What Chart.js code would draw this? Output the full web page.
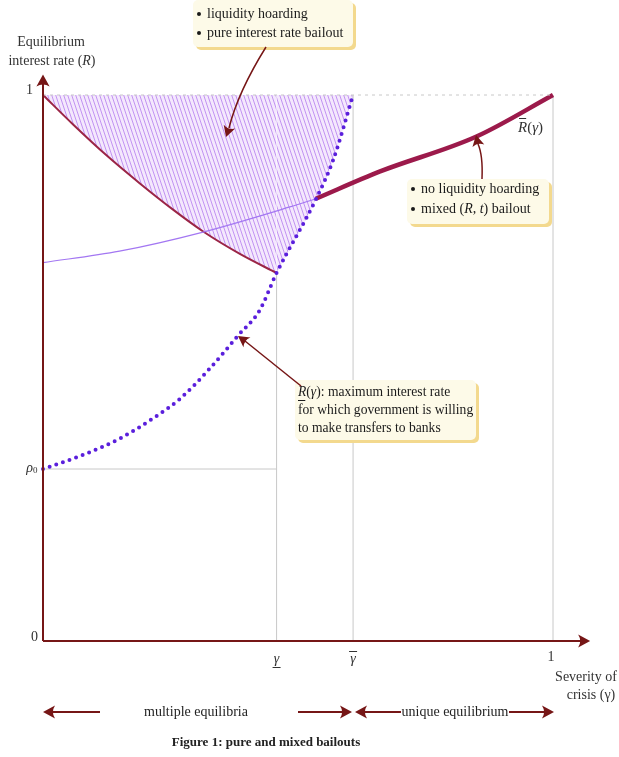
<!DOCTYPE html>
<html>
<head>
<meta charset="utf-8">
<script src="https://cdn.jsdelivr.net/npm/chart.js@4.4.0/dist/chart.umd.min.js"></script>
<style>
  html, body { margin: 0; padding: 0; background: #fff; }
  canvas { display: block; }
</style>
</head>
<body>
<canvas id="chart" width="619" height="757"></canvas>
<script>
// values (x = severity gamma, y = interest rate R)
const RHO0 = 0.315;
const GAMMA_LOW = 0.458;
const GAMMA_HIGH = 0.608;

// R_(gamma): dotted lower bound curve
const lowerX = [0, 0.079, 0.151, 0.216, 0.269, 0.327, 0.383, 0.425, 0.458, 0.533, 0.569, 0.608];
const lowerR = [0.315, 0.341, 0.371, 0.408, 0.444, 0.499, 0.56, 0.606, 0.674, 0.805, 0.881, 1.0];

// decreasing curve (liquidity hoarding equilibrium)
const hoardX = [0, 0.059, 0.125, 0.19, 0.255, 0.314, 0.386, 0.458];
const hoardR = [1, 0.946, 0.889, 0.838, 0.79, 0.75, 0.709, 0.674];

// thin purple line (continuation of Rbar below the dotted curve)
const thinX = [0, 0.15, 0.314, 0.484, 0.535];
const thinR = [0.693, 0.714, 0.749, 0.795, 0.81];

// Rbar(gamma): thick curve
const upperX = [0.535, 0.661, 0.85, 1];
const upperR = [0.81, 0.86, 0.924, 1];

const pts = (xs, ys) => xs.map((x, i) => ({ x: x, y: ys[i] }));

const ink = '#761616';
const serif = '"Liberation Serif", "DejaVu Serif", serif';

function hatchPattern() {
  const c = document.createElement('canvas');
  c.width = 4;
  c.height = 12;
  const g = c.getContext('2d');
  g.fillStyle = '#f4e8fd';
  g.fillRect(0, 0, 4, 12);
  g.strokeStyle = '#c293f2';
  g.lineWidth = 1;
  [-4, 0, 4].forEach((o) => {
    g.beginPath();
    g.moveTo(o, 0);
    g.lineTo(o + 4, 12);
    g.stroke();
  });
  return document.getElementById('chart').getContext('2d').createPattern(c, 'repeat');
}
const hatch = hatchPattern();

// right part of the hatched area: under R = 1, above the dotted curve
const hatchRight = pts(lowerX, lowerR).filter((p) => p.x >= GAMMA_LOW);

function arrowHead(ctx, x, y, angle, size) {
  ctx.save();
  ctx.translate(x, y);
  ctx.rotate(angle);
  ctx.beginPath();
  ctx.moveTo(0, 0);
  ctx.lineTo(-size, -size * 0.55);
  ctx.quadraticCurveTo(-size * 0.65, 0, -size, size * 0.55);
  ctx.closePath();
  ctx.fill();
  ctx.restore();
}

function box(ctx, x, y, w, h) {
  ctx.save();
  ctx.fillStyle = '#f3d98e';
  ctx.beginPath();
  ctx.roundRect(x + 3, y + 3, w, h, 5);
  ctx.fill();
  ctx.fillStyle = '#fdfae8';
  ctx.beginPath();
  ctx.roundRect(x, y, w, h, 5);
  ctx.fill();
  ctx.restore();
}

// draw [text, italic] runs; returns x start of every run
function rich(ctx, parts, x, y, size, align) {
  const font = (it) => (it ? 'italic ' : '') + size + 'px ' + serif;
  let total = 0;
  parts.forEach((p) => {
    ctx.font = font(p[1]);
    total += ctx.measureText(p[0]).width;
  });
  let cx = align === 'center' ? x - total / 2 : x;
  const starts = [];
  ctx.textAlign = 'left';
  parts.forEach((p) => {
    ctx.font = font(p[1]);
    starts.push(cx);
    ctx.fillText(p[0], cx, y);
    cx += ctx.measureText(p[0]).width;
  });
  return starts;
}

function bullet(ctx, x, y) {
  ctx.beginPath();
  ctx.arc(x, y, 2, 0, Math.PI * 2);
  ctx.fill();
}

const figurePlugin = {
  id: 'figure',
  afterDraw(chart) {
    const ctx = chart.ctx;
    const xs = chart.scales.x;
    const ys = chart.scales.y;
    const px = (v) => xs.getPixelForValue(v);
    const py = (v) => ys.getPixelForValue(v);
    const x0 = px(0);
    const y0 = py(0);

    ctx.save();
    ctx.strokeStyle = ink;
    ctx.fillStyle = ink;
    ctx.lineWidth = 2;

    // axes
    ctx.beginPath();
    ctx.moveTo(x0, y0);
    ctx.lineTo(x0, py(1.03));
    ctx.moveTo(x0, y0);
    ctx.lineTo(px(1.065), y0);
    ctx.stroke();
    arrowHead(ctx, x0, py(1.03) - 4, -Math.PI / 2, 12);
    arrowHead(ctx, px(1.065) + 4, y0, 0, 12);

    // axis labels
    ctx.fillStyle = '#333';
    ctx.strokeStyle = '#333';
    ctx.font = '14px ' + serif;
    ctx.textBaseline = 'middle';
    ctx.textAlign = 'right';
    ctx.fillText('1', x0 - 10, py(1) - 5);
    ctx.fillText('0', x0 - 5, y0 - 4);
    ctx.font = 'italic 14px ' + serif;
    ctx.fillText('\u03C1', x0 - 10, py(RHO0) - 1);
    ctx.font = '9px ' + serif;
    ctx.textAlign = 'left';
    ctx.fillText('0', x0 - 10, py(RHO0) + 2);

    ctx.textAlign = 'center';
    ctx.font = '14px ' + serif;
    ctx.fillText('Equilibrium', 51, 42);
    rich(ctx, [['interest rate (', false], ['R', true], [')', false]], 52, 61, 14, 'center');

    // x tick labels
    ctx.textAlign = 'center';
    ctx.font = 'italic 14px ' + serif;
    const gl = px(GAMMA_LOW);
    const gh = px(GAMMA_HIGH);
    ctx.fillText('\u03B3', gl, 659);
    ctx.fillText('\u03B3', gh, 659);
    ctx.lineWidth = 1;
    ctx.beginPath();
    ctx.moveTo(gl - 4, 667.5);
    ctx.lineTo(gl + 4, 667.5);
    ctx.moveTo(gh - 4, 651.5);
    ctx.lineTo(gh + 4, 651.5);
    ctx.stroke();
    ctx.font = '14px ' + serif;
    ctx.fillText('1', px(1) - 2, 657);
    ctx.fillText('Severity of', 586, 677);
    ctx.fillText('crisis (\u03B3)', 591, 695);

    // Rbar label
    let s = rich(ctx, [['R', true], ['(', false], ['\u03B3', true], [')', false]], 518, 128, 15, 'left');
    ctx.beginPath();
    ctx.moveTo(s[0] + 1, 118.5);
    ctx.lineTo(s[1] - 1, 118.5);
    ctx.stroke();

    // annotation boxes
    box(ctx, 193, 0, 160, 47);
    box(ctx, 407, 179, 142, 45);
    box(ctx, 295, 380, 181, 60);

    ctx.fillStyle = '#1a1a1a';
    ctx.strokeStyle = '#1a1a1a';
    ctx.font = '14px ' + serif;
    ctx.textAlign = 'left';
    bullet(ctx, 199, 14);
    ctx.fillText('liquidity hoarding', 207, 14);
    bullet(ctx, 199, 33);
    ctx.fillText('pure interest rate bailout', 207, 33);

    bullet(ctx, 413, 189);
    ctx.fillText('no liquidity hoarding', 421, 189);
    bullet(ctx, 413, 209);
    rich(ctx, [['mixed (', false], ['R', true], [', ', false], ['t', true], [') bailout', false]], 421, 209, 14, 'left');

    s = rich(ctx, [['R', true], ['(', false], ['\u03B3', true], ['): maximum interest rate', false]], 298, 392, 13.6, 'left');
    ctx.beginPath();
    ctx.moveTo(s[0], 400.5);
    ctx.lineTo(s[1] - 1, 400.5);
    ctx.stroke();
    ctx.font = '13.6px ' + serif;
    ctx.fillText('for which government is willing', 298, 410);
    ctx.fillText('to make transfers to banks', 298, 428);

    // annotation arrows
    ctx.strokeStyle = ink;
    ctx.fillStyle = ink;
    ctx.lineWidth = 1.5;
    ctx.beginPath();
    ctx.moveTo(266, 47);
    ctx.quadraticCurveTo(238, 92, 229, 128);
    ctx.stroke();
    arrowHead(ctx, 226, 137, Math.atan2(9, -3), 11);

    ctx.beginPath();
    ctx.moveTo(482, 179);
    ctx.quadraticCurveTo(483, 155, 478, 144);
    ctx.stroke();
    arrowHead(ctx, 476, 135, Math.atan2(-9, -2), 11);

    ctx.beginPath();
    ctx.moveTo(301, 386);
    ctx.lineTo(245, 341);
    ctx.stroke();
    arrowHead(ctx, 238, 336, Math.atan2(-5, -7), 11);

    // bottom regime arrows
    const by = 712;
    ctx.lineWidth = 2;
    ctx.beginPath();
    ctx.moveTo(100, by);
    ctx.lineTo(50, by);
    ctx.moveTo(298, by);
    ctx.lineTo(346, by);
    ctx.moveTo(401, by);
    ctx.lineTo(362, by);
    ctx.moveTo(509, by);
    ctx.lineTo(548, by);
    ctx.stroke();
    arrowHead(ctx, 43, by, Math.PI, 12);
    arrowHead(ctx, 352, by, 0, 12);
    arrowHead(ctx, 355, by, Math.PI, 12);
    arrowHead(ctx, 554, by, 0, 12);

    ctx.fillStyle = '#222';
    ctx.font = '14px ' + serif;
    ctx.textAlign = 'center';
    ctx.fillText('multiple equilibria', 196, by);
    ctx.fillText('unique equilibrium', 455, by);

    ctx.font = 'bold 13px ' + serif;
    ctx.fillText('Figure 1: pure and mixed bailouts', 266, 743);
    ctx.restore();
  },
};

const guide = {
  borderColor: '#c8c8c8',
  borderWidth: 1,
  pointRadius: 0,
  fill: false,
  clip: false,
  order: 5,
};

new Chart(document.getElementById('chart'), {
  type: 'line',
  data: {
    datasets: [
      {
        label: 'hatch right',
        data: hatchRight,
        borderWidth: 0,
        borderColor: 'rgba(0,0,0,0)',
        pointRadius: 0,
        backgroundColor: hatch,
        fill: { value: 1 },
        cubicInterpolationMode: 'monotone',
        clip: false,
        order: 10,
      },
      { ...guide, label: 'R=1', data: pts([0, 1], [1, 1]), borderDash: [3, 4], order: 1 },
      { ...guide, label: 'gamma low', data: pts([GAMMA_LOW, GAMMA_LOW], [0, 0.674]) },
      { ...guide, label: 'gamma high', data: pts([GAMMA_HIGH, GAMMA_HIGH], [0, 1]) },
      { ...guide, label: 'gamma one', data: pts([1, 1], [0, 1]) },
      { ...guide, label: 'rho0', data: pts([0, GAMMA_LOW], [RHO0, RHO0]) },
      {
        label: 'hoarding',
        data: pts(hoardX, hoardR),
        borderColor: '#9b2546',
        borderWidth: 2,
        pointRadius: 0,
        backgroundColor: hatch,
        fill: { value: 1 },
        cubicInterpolationMode: 'monotone',
        clip: false,
        order: 4,
      },
      {
        label: 'thin',
        data: pts(thinX, thinR),
        borderColor: '#a377f2',
        borderWidth: 1.2,
        pointRadius: 0,
        cubicInterpolationMode: 'monotone',
        clip: false,
        order: 3,
      },
      {
        label: 'Rbar',
        data: pts(upperX, upperR),
        borderColor: '#9c1a4b',
        borderWidth: 4.5,
        pointRadius: 0,
        cubicInterpolationMode: 'monotone',
        clip: false,
        order: 2,
      },
      {
        label: 'R lower',
        data: pts(lowerX, lowerR),
        borderColor: '#5a1fdc',
        borderWidth: 4,
        borderDash: [0, 7],
        borderCapStyle: 'round',
        pointRadius: 0,
        cubicInterpolationMode: 'monotone',
        clip: false,
        order: 0,
      },
    ],
  },
  options: {
    responsive: false,
    animation: false,
    layout: { padding: { left: 43, right: 66, top: 95, bottom: 116 } },
    scales: {
      x: { type: 'linear', min: 0, max: 1, display: false },
      y: { type: 'linear', min: 0, max: 1, display: false },
    },
    plugins: {
      legend: { display: false },
      tooltip: { enabled: false },
    },
  },
  plugins: [figurePlugin],
});
</script>
</body>
</html>
